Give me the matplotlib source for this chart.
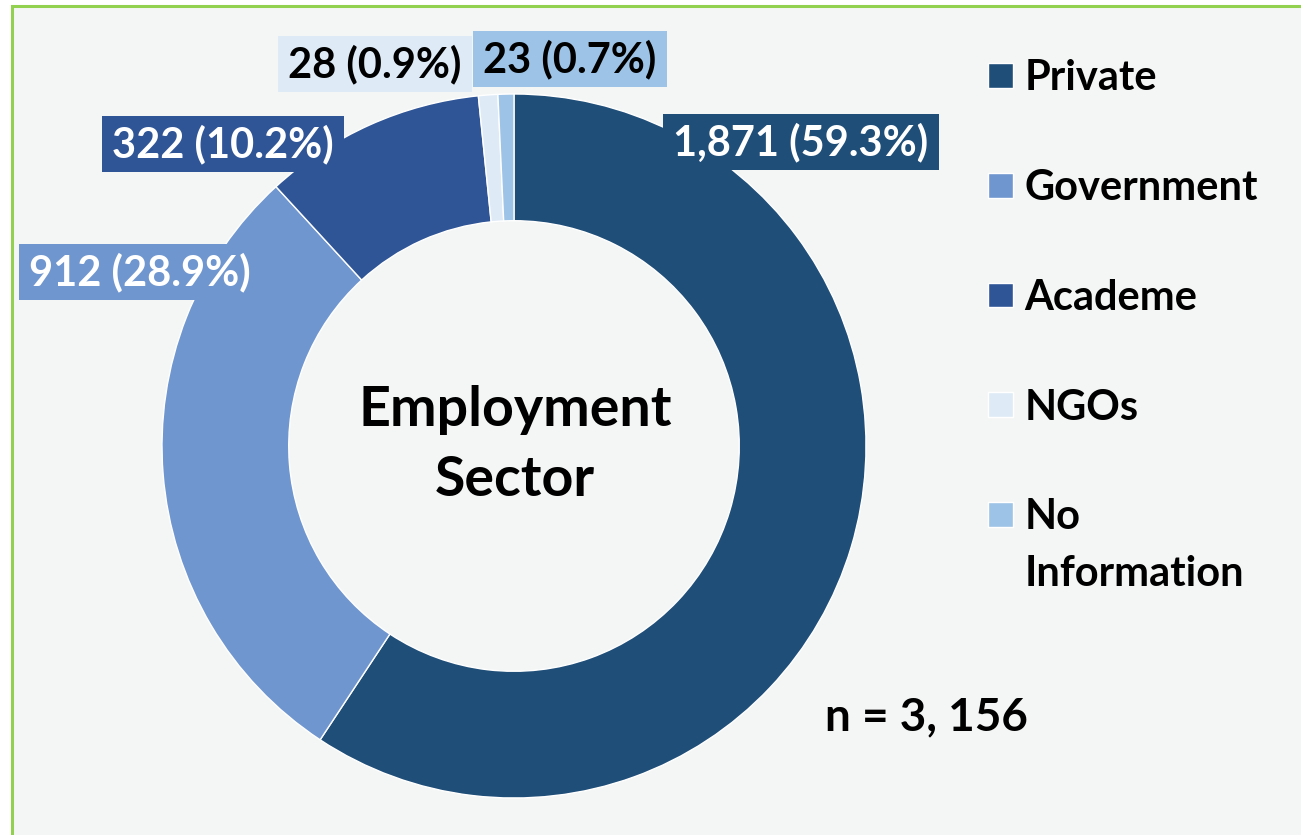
import matplotlib
matplotlib.use("Agg")
import matplotlib.pyplot as plt
from matplotlib.patches import Rectangle
from matplotlib.path import Path
from matplotlib.legend_handler import HandlerPatch

categories = ["Private", "Government", "Academe", "NGOs", "No\nInformation"]
counts = [1871, 912, 322, 28, 23]
percents = [59.3, 28.9, 10.2, 0.9, 0.7]
colors = ["#1F4E79", "#7096CF", "#2F5597", "#DEEAF6", "#9DC3E6"]
text_colors = ["white", "white", "white", "black", "black"]
label_pos = [(801, 142), (140, 272), (223, 144), (375, 64), (570, 59)]
n_total = "n = 3, 156"
center_title = "Employment\nSector"

W, H = 1301, 835
fig = plt.figure(figsize=(W / 100, H / 100), dpi=100)
fig.patch.set_facecolor("white")
ax = fig.add_axes([0, 0, 1, 1])

FONT = "Lato"
FS = 30


def label_box(x0, y0, width, height, mutation_size, padx=0.25, pady=0.2):
    px = padx * mutation_size
    py = pady * mutation_size
    x0, y0 = x0 - px, y0 - py
    x1, y1 = x0 + width + 2 * px, y0 + height + 2 * py
    return Path([(x0, y0), (x1, y0), (x1, y1), (x0, y1), (x0, y0)],
                [Path.MOVETO, Path.LINETO, Path.LINETO, Path.LINETO, Path.CLOSEPOLY])


# background panel with green border
ax.add_patch(Rectangle((12, -20), W + 20, H + 20 - 6, facecolor="#F4F6F5",
                       edgecolor="#92D050", linewidth=2.2, zorder=0))

cx, cy, R = 514, H - 446, 352
wedges, _ = ax.pie(counts, colors=colors, startangle=90, counterclock=False,
                   center=(cx, cy), radius=R,
                   wedgeprops=dict(width=R * 0.36, edgecolor="white", linewidth=1.0))
ax.set_xlim(0, W)
ax.set_ylim(0, H)
ax.set_aspect("equal")
ax.axis("off")

for c, p, col, tc, (x, y) in zip(counts, percents, colors, text_colors, label_pos):
    ax.text(x, H - y, f"{c:,} ({p}%)", ha="center", va="center", fontsize=FS,
            fontweight="bold", family=FONT, color=tc,
            bbox=dict(boxstyle=label_box, facecolor=col, edgecolor="none"))

ax.text(cx + 1, H - 445, center_title, ha="center", va="center", fontsize=40,
        fontweight="bold", family=FONT, color="black", linespacing=1.5)

ax.text(825, H - 717, n_total, ha="left", va="center", fontsize=33,
        fontweight="bold", family=FONT, color="black")


def upper_square(legend, orig_handle, xdescent, ydescent, width, height, fontsize):
    return Rectangle((-xdescent, -ydescent + 0.76 * fontsize), width, height)


leg = ax.legend(wedges, categories, loc="upper left",
                bbox_to_anchor=(950 / W, 1 - 22 / H), frameon=False,
                prop=dict(family=FONT, weight="bold", size=FS),
                handlelength=0.62, handleheight=0.53, handletextpad=0.26,
                labelspacing=1.72,
                handler_map={wedges[4]: HandlerPatch(patch_func=upper_square)})
leg.get_texts()[4].set_linespacing(1.6)

fig.savefig("out.png", dpi=100, facecolor=fig.get_facecolor())
